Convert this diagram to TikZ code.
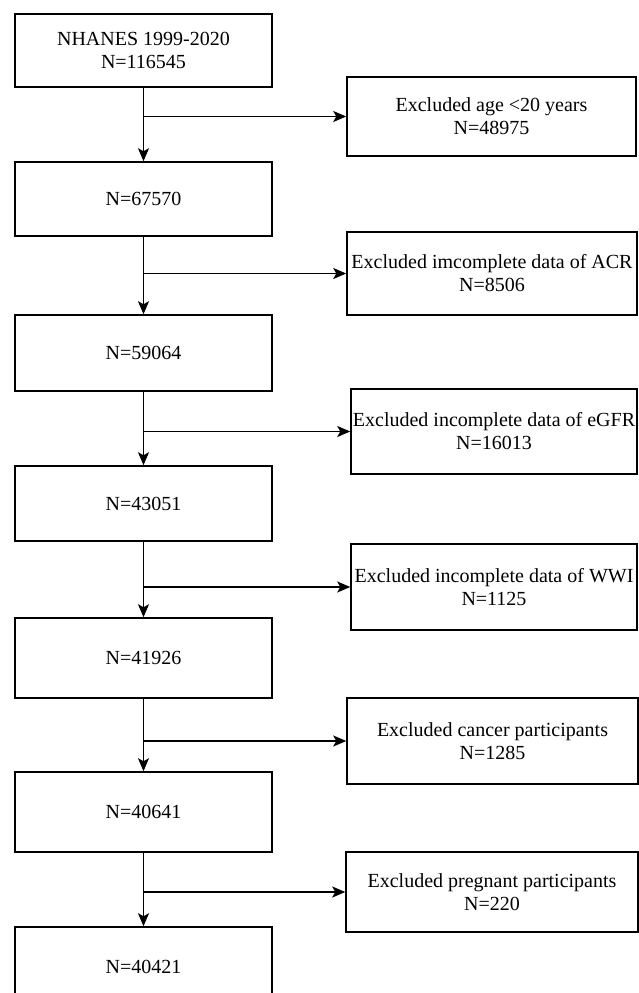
\documentclass[tikz,border=0pt]{standalone}
\usepackage{fontspec}
\setmainfont{Liberation Serif}
\usetikzlibrary{arrows.meta}

\begin{document}
\begin{tikzpicture}[x=1pt,y=-1pt,
      every node/.style={font=\fontsize{20}{23}\selectfont},
      box/.style={draw,line width=1.5pt,align=center,inner sep=0pt},
      mainbox/.style={box,minimum width=257pt},
      exclbox/.style={box},
      flow/.style={line width=1.6pt,-{Stealth[length=13pt,width=11pt,inset=3pt]}}]
    \useasboundingbox (0,0) rectangle (639,993);
    % main column
    \node[mainbox,minimum height=73pt] (S1) at (143.5,50.5) {NHANES 1999-2020\\N=116545};
    \node[mainbox,minimum height=74pt] (S2) at (143.5,199) {N=67570};
    \node[mainbox,minimum height=76pt] (S3) at (143.5,353) {N=59064};
    \node[mainbox,minimum height=75pt] (S4) at (143.5,503.5) {N=43051};
    \node[mainbox,minimum height=80pt] (S5) at (143.5,658) {N=41926};
    \node[mainbox,minimum height=80pt] (S6) at (143.5,812) {N=40641};
    \node[mainbox,minimum height=80pt] (S7) at (143.5,967) {N=40421};   % cut by the page
    % exclusions
    \node[exclbox,minimum width=289pt,minimum height=79pt] (E1) at (491.5,116.5) {Excluded age <20 years\\N=48975};
    \node[exclbox,minimum width=290pt,minimum height=83pt] (E2) at (492,273.5) {Excluded imcomplete data of ACR\\N=8506};
    \node[exclbox,minimum width=286pt,minimum height=85pt] (E3) at (494,431.5) {Excluded incomplete data of eGFR\\N=16013};
    \node[exclbox,minimum width=286pt,minimum height=86pt] (E4) at (494,587) {Excluded incomplete data of WWI\\N=1125};
    \node[exclbox,minimum width=291pt,minimum height=86pt] (E5) at (492.5,741) {Excluded cancer participants\\N=1285};
    \node[exclbox,minimum width=292pt,minimum height=80pt] (E6) at (492,892) {Excluded pregnant participants\\N=220};
    % connectors
    \foreach \a/\b in {1/2,2/3,3/4,4/5,5/6,6/7} {
      \draw[flow] (S\a.south) -- (S\b.north);
      \draw[flow] (S\a.south |- E\a.west) -- (E\a.west);
    }
  \end{tikzpicture}
\end{document}
